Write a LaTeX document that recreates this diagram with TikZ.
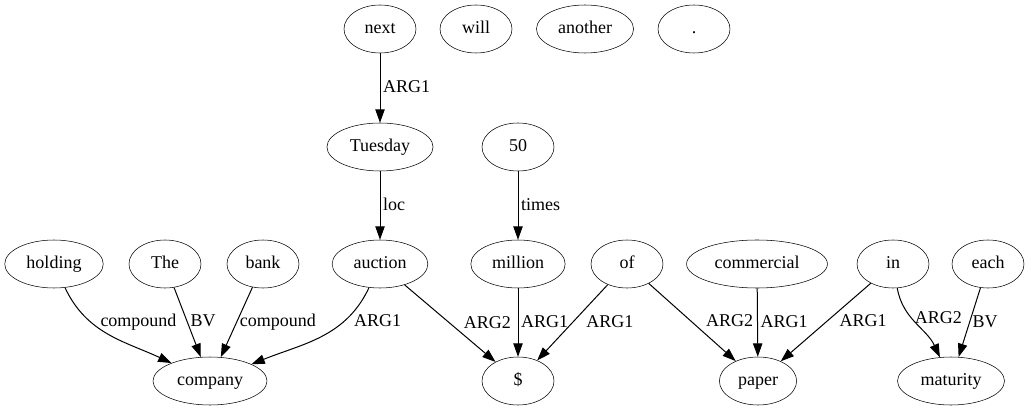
\documentclass[tikz,border=0pt]{standalone}
\usepackage{fontspec}
\setmainfont{Liberation Serif}
\usetikzlibrary{arrows.meta, shapes.geometric}

\begin{document}
\begin{tikzpicture}[
    x=0.75pt, y=0.75pt,
    word/.style={
        draw,
        ellipse,
        minimum width=54pt,
        minimum height=36pt,
        inner xsep=5.5pt,
        text height=10pt,
        text depth=3pt,
        font=\fontsize{13.5}{16}\selectfont
    },
    arrow/.style={-{Triangle[length=10pt, width=7pt]}, line width=0.75pt},
    elabel/.style={midway, right, inner sep=2pt, text height=10pt, text depth=3pt, font=\fontsize{13.5}{16}\selectfont}
]

\useasboundingbox (0,0) rectangle (1035,411);

% Top row
\node[word] at (380, 382) (next) {next};
\node[word] at (476, 382) (will) {will};
\node[word] at (585, 382) (another) {another};
\node[word] at (694, 382) (stop) {.};

% Second row
\node[word] at (380, 264) (tuesday) {Tuesday};
\node[word] at (518, 264) (fifty) {50};

% Third row
\node[word] at (54, 147) (holding) {holding};
\node[word] at (165, 147) (the_det) {The};
\node[word] at (263, 147) (bank) {bank};
\node[word] at (380, 147) (auction) {auction};
\node[word] at (518, 147) (million) {million};
\node[word] at (627, 147) (of_prep) {of};
\node[word] at (757, 147) (commercial) {commercial};
\node[word] at (893, 147) (in_prep) {in};
\node[word] at (988, 147) (each) {each};

% Bottom row
\node[word] at (210, 30) (company) {company};
\node[word] at (518, 30) (dollar) {\$};
\node[word] at (758, 30) (paper) {paper};
\node[word] at (951, 30) (maturity) {maturity};

% Upper edges
\draw[arrow] (next) -- (tuesday) node[elabel] {ARG1};
\draw[arrow] (tuesday) -- (auction) node[elabel] {loc};
\draw[arrow] (fifty) -- (million) node[elabel] {times};

% Edges into company
\draw[arrow] (holding) to[out=-65, in=155] node[elabel, pos=0.32, xshift=5] {compound} (company);
\draw[arrow] (the_det) -- (company) node[elabel] {BV};
\draw[arrow] (bank) -- (company) node[elabel] {compound};
\draw[arrow] (auction) to[out=-115, in=22] node[elabel, pos=0.3, xshift=6] {ARG1} (company);

% Edges into $
\draw[arrow] (auction) -- (dollar) node[elabel, xshift=8] {ARG2};
\draw[arrow] (million) -- (dollar) node[elabel] {ARG1};
\draw[arrow] (of_prep) -- (dollar) node[elabel, xshift=8] {ARG1};

% Edges into paper
\draw[arrow] (of_prep) -- (paper) node[elabel, xshift=8] {ARG2};
\draw[arrow] (commercial) -- (paper) node[elabel] {ARG1};
\draw[arrow] (in_prep) -- (paper) node[elabel, xshift=8] {ARG1};

% Edges into maturity
\draw[arrow] (in_prep) to[out=-80, in=115] node[elabel, pos=0.42] {ARG2} (maturity);
\draw[arrow] (each) -- (maturity) node[elabel] {BV};

\end{tikzpicture}
\end{document}
